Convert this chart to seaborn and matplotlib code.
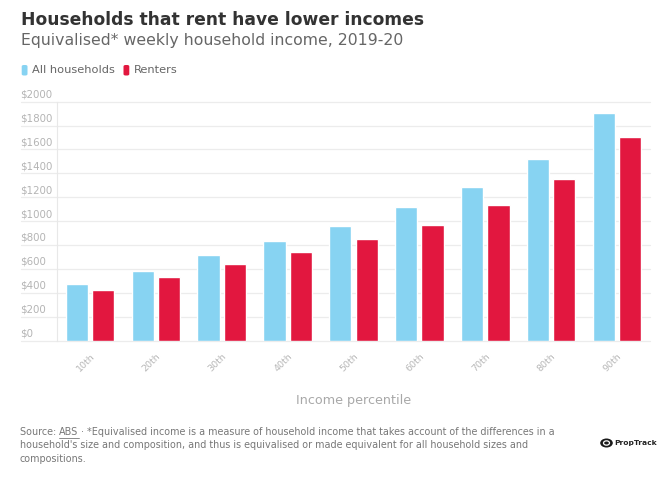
import matplotlib
matplotlib.use("Agg")
import matplotlib.pyplot as plt
import matplotlib.transforms as mtransforms
from matplotlib.patches import Circle, FancyBboxPatch
import seaborn as sns
import pandas as pd

percentiles = ["10th", "20th", "30th", "40th", "50th", "60th", "70th", "80th", "90th"]
all_households = [474, 583, 715, 832, 960, 1121, 1286, 1518, 1903]
renters = [425, 533, 644, 745, 851, 968, 1138, 1356, 1702]
series_names = ["All households", "Renters"]
y_ticks = [0, 200, 400, 600, 800, 1000, 1200, 1400, 1600, 1800, 2000]
y_tick_labels = ["$" + str(v) for v in y_ticks]

BLUE = "#87D3F2"
RED = "#E2173F"

df = pd.DataFrame({
    "percentile": percentiles * 2,
    "value": all_households + renters,
    "series": [series_names[0]] * len(percentiles) + [series_names[1]] * len(percentiles),
})

sns.set_theme(style="white")
plt.rcParams["font.family"] = ["DejaVu Sans"]

W, H = 669, 479
fig = plt.figure(figsize=(W / 100, H / 100), dpi=100)
fig.patch.set_facecolor("white")

def fx(px):
    return px / W

def fy(py):
    return 1 - py / H

ax = fig.add_axes([fx(57), fy(340.7), fx(650) - fx(57), fy(101.7) - fy(340.7)])
sns.barplot(data=df, x="percentile", y="value", hue="series",
            palette=[BLUE, RED], width=0.8, gap=0.16, ax=ax,
            saturation=1, legend=False, zorder=3)

ax.set_ylim(0, 2000)
ax.set_xlim(-0.5, len(percentiles) - 0.5)
for s in ["top", "right", "bottom"]:
    ax.spines[s].set_visible(False)
ax.spines["left"].set_color("#e8e8e8")
ax.spines["left"].set_linewidth(0.8)

# gridlines extending left beneath the labels
ax.set_yticks(y_ticks)
ax.set_yticklabels([])
ax.tick_params(axis="y", length=0)
x0 = (fx(21) - fx(57)) / (fx(650) - fx(57))
for v in y_ticks:
    ax.axhline(v, xmin=x0, xmax=1, color="#ececec", lw=0.9, clip_on=False, zorder=1)

blend = mtransforms.blended_transform_factory(fig.transFigure, ax.transData)
offset = mtransforms.ScaledTranslation(0, 3.0 / 72, fig.dpi_scale_trans)
for v, lab in zip(y_ticks, y_tick_labels):
    ax.text(fx(20.5), v, lab, transform=blend + offset, ha="left", va="baseline",
            fontsize=7.4, color="#b4b4b4")

ax.set_xticks(range(len(percentiles)))
ax.set_xticklabels(percentiles, rotation=45, ha="right", rotation_mode="anchor",
                   fontsize=6.8, color="#b8b8b8")
ax.tick_params(axis="x", length=0, pad=8)
ax.set_xlabel("Income percentile", fontsize=9.2, color="#a8a8a8", labelpad=15)
ax.set_ylabel("")

# Title & subtitle
fig.text(fx(21), fy(20), "Households that rent have lower incomes", fontsize=12.3,
         fontweight="bold", color="#333333", ha="left", va="center")
fig.text(fx(21), fy(40.5), "Equivalised* weekly household income, 2019-20", fontsize=11.3,
         color="#666666", ha="left", va="center")

# Legend
leg_y = 70
for (x_sq, col, x_txt, name) in [(21.7, BLUE, 32, series_names[0]), (123.5, RED, 134, series_names[1])]:
    fig.patches.append(FancyBboxPatch((fx(x_sq), fy(75.5)), fx(5.8), fy(65) - fy(75.5),
                                      boxstyle="round,pad=0,rounding_size=0.003",
                                      transform=fig.transFigure, facecolor=col, edgecolor="none"))
    fig.text(fx(x_txt), fy(leg_y), name, fontsize=8.2, color="#666666", ha="left", va="center")

# Footnote
foot_col = "#777777"
fs = 6.95
t1 = fig.text(fx(20), fy(432), "Source: ", fontsize=fs, color=foot_col, ha="left", va="center")
fig.canvas.draw()
r = fig.canvas.get_renderer()
bb = t1.get_window_extent(r)
t2 = fig.text(bb.x1 / W, fy(432), "ABS", fontsize=fs, color=foot_col, ha="left", va="center")
bb2 = t2.get_window_extent(r)
fig.add_artist(plt.Line2D([bb2.x0 / W, bb2.x1 / W], [fy(437.5), fy(437.5)],
                          transform=fig.transFigure, color=foot_col, lw=0.6))
fig.text(bb2.x1 / W, fy(432),
         " \u00b7 *Equivalised income is a measure of household income that takes account of the differences in a",
         fontsize=fs, color=foot_col, ha="left", va="center")
fig.text(fx(20), fy(445.5),
         "household's size and composition, and thus is equivalised or made equivalent for all household sizes and",
         fontsize=fs, color=foot_col, ha="left", va="center")
fig.text(fx(20), fy(459), "compositions.", fontsize=fs, color=foot_col, ha="left", va="center")

# PropTrack logo
fig.patches.append(Circle((fx(606.5), fy(443)), 6.3 / W, transform=fig.transFigure,
                          facecolor="#1a1a1a", edgecolor="none"))
fig.patches.append(Circle((fx(606.5), fy(443)), 3.0 / W, transform=fig.transFigure,
                          facecolor="none", edgecolor="white", lw=0.9))
fig.text(fx(614.5), fy(443), "PropTrack", fontsize=5.4, fontweight="bold", color="#222222",
         ha="left", va="center")

fig.savefig("out.png", dpi=100, facecolor="white")
